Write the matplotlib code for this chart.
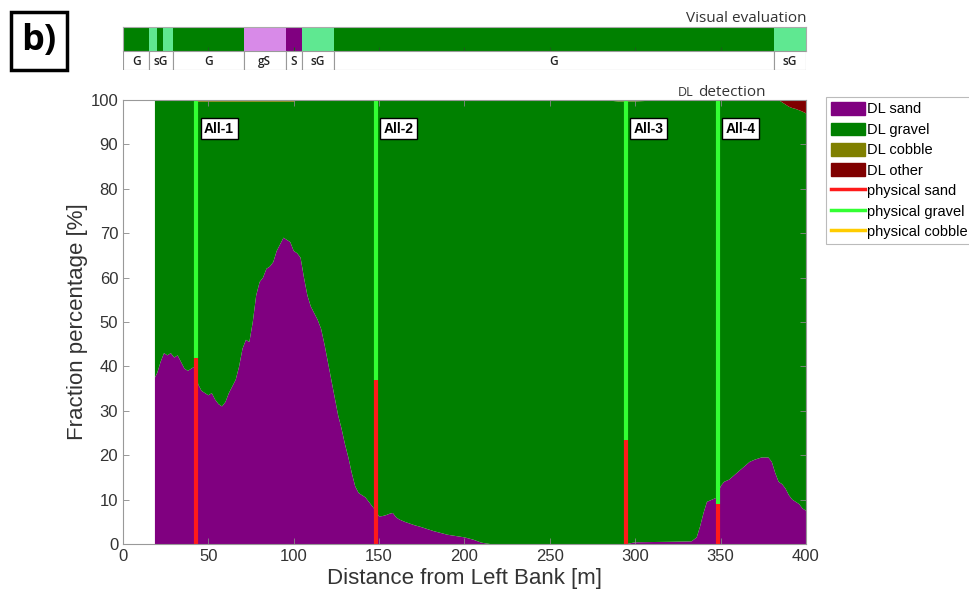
import numpy as np
import matplotlib
matplotlib.use('Agg')
from matplotlib import pyplot as plt
from matplotlib.patches import Patch, Rectangle
from matplotlib.lines import Line2D

plt.rcParams['font.family'] = ['Liberation Sans', 'DejaVu Sans']

# DL detection profile across the section (distance [m], fractions [%])
dist = [18.7, 20, 22, 24, 26, 28, 30, 32, 34, 36, 38, 40, 42, 43, 44, 46, 48,
        50, 52, 54, 56, 58, 60, 62, 64, 66, 68, 70, 72, 74, 76, 78, 80, 82, 84,
        86, 88, 90, 92, 94, 96, 98, 100, 102, 104, 106, 108, 110, 112, 114,
        116, 118, 120, 122, 124, 126, 128, 130, 132, 134, 136, 138, 140, 142,
        144, 146, 148, 150, 152, 154, 156, 158, 160, 162, 165, 168, 171, 174,
        178, 182, 186, 190, 195, 200, 205, 210, 215, 250, 280, 290, 295, 300,
        320, 333, 336, 338, 340, 342, 345, 348, 350, 352, 355, 358, 361, 364,
        367, 370, 374, 378, 380, 382, 384, 386, 388, 390, 392, 394, 396, 398,
        400]
dl_sand = [37.5, 38.5, 41, 43, 42.5, 43, 42, 42.5, 41, 39.5, 39, 39.5, 40, 42,
           36, 34.5, 34, 33.5, 34, 32.5, 31.5, 31, 32, 34, 35.5, 37, 40, 44,
           46, 45.5, 50, 56, 59, 60, 62, 62.5, 63.5, 66, 67.5, 69, 68.5, 68,
           66, 65.5, 64.5, 60, 56, 53.5, 52, 50.5, 48.5, 45, 41, 37, 33, 29,
           26, 22.5, 19.5, 16, 13, 11.5, 11, 10.5, 9.5, 8.5, 7.5, 6.2, 6.3,
           6.5, 6.8, 7, 6, 5.5, 5, 4.6, 4.2, 3.9, 3.4, 2.9, 2.5, 2.1, 1.8, 1.5,
           1.0, 0.3, 0, 0, 0, 0, 0, 0.4, 0.5, 0.6, 1.5, 4, 7, 9.5, 10, 10.5, 13,
           14, 14.5, 15.5, 16.5, 17.5, 18.5, 19, 19.5, 19.5, 18.5, 16, 14,
           13.5, 12.5, 11, 10, 9.5, 9, 8, 7.5]
dl_cobble = [0] * 14 + [0.4] * 29 + [0] * 46 + [0.3, 0.3, 0.3] + [0] * 29
dl_other = [0] * 113 + [0.5, 1.0, 1.5, 1.8, 2.0, 2.3, 2.6, 3.0]
dl_gravel = [100 - s - c - o for s, c, o in zip(dl_sand, dl_cobble, dl_other)]

# Physical samples
samples = ['All-1', 'All-2', 'All-3', 'All-4']
sample_x = [43, 148, 294.5, 348.5]
phys_sand = [42, 37, 23.5, 9]
phys_gravel = [58, 63, 76.5, 91]

# Visual evaluation strip
strip_edges = [0, 15.4, 20.1, 23.2, 29.1, 70.7, 95.2, 105, 123.4, 381.3, 400]
strip_class = ['G', 'sG', 'G', 'sG', 'G', 'gS', 'S', 'sG', 'G', 'sG']
label_edges = [0, 15.4, 29.1, 70.7, 95.2, 105, 123.4, 381.3, 400]
label_text = ['G', 'sG', 'G', 'gS', 'S', 'sG', 'G', 'sG']

class_colors = {'G': '#008000', 'sG': '#5fe891', 'gS': '#d88ae8', 'S': '#800080'}
c_sand, c_gravel, c_cobble, c_other = '#800080', '#008000', '#808000', '#800000'
c_psand, c_pgravel, c_pcobble = '#ff1a1a', '#33ff33', '#ffcc00'

fig = plt.figure(figsize=(9.7, 6.02), dpi=100)

# main stacked area
ax = fig.add_axes([0.1268, 0.0963, 0.7041, 0.7375])
ax.stackplot(dist, dl_sand, dl_gravel, dl_cobble, dl_other,
             colors=[c_sand, c_gravel, c_cobble, c_other], linewidth=0)
for name, xs, ps, pg in zip(samples, sample_x, phys_sand, phys_gravel):
    ax.plot([xs, xs], [0, ps], color=c_psand, lw=3, solid_capstyle='butt')
    ax.plot([xs, xs], [ps, ps + pg], color=c_pgravel, lw=3, solid_capstyle='butt')
    ax.text(xs + 4.5, 93.5, name, fontsize=10, fontweight='bold', va='center',
            ha='left', bbox=dict(boxstyle='square,pad=0.25', fc='white',
                                 ec='black', lw=1))
ax.set_xlim(0, 400)
ax.set_ylim(0, 100)
ax.set_xticks(np.arange(0, 401, 50))
ax.set_yticks(np.arange(0, 101, 10))
ax.tick_params(direction='in', length=4, width=0.6, colors='#888888',
               labelcolor='#333333', labelsize=12, top=True, right=True)
for sp in ax.spines.values():
    sp.set_color('#999999')
    sp.set_linewidth(0.8)
ax.set_xlabel('Distance from Left Bank [m]', fontsize=16, color='#333333',
              labelpad=3)
ax.set_ylabel('Fraction percentage [%]', fontsize=16, color='#333333',
              labelpad=2)

# visual evaluation colour strip
axs = fig.add_axes([0.1268, 1 - 51 / 602, 0.7041, 24 / 602])
for a, b, c in zip(strip_edges[:-1], strip_edges[1:], strip_class):
    axs.barh(0, b - a, left=a, height=1, color=class_colors[c], linewidth=0)
axs.set_xlim(0, 400)
axs.set_ylim(-0.5, 0.5)
axs.set_xticks(np.arange(50, 400, 50))
axs.set_yticks([])
axs.tick_params(axis='x', direction='in', length=3, colors='#1a5e1a',
                labelbottom=False)
for sp in axs.spines.values():
    sp.set_color('#aaaaaa')
    sp.set_linewidth(0.8)

# class labels under the strip
axl = fig.add_axes([0.1268, 1 - 70 / 602, 0.7041, 19 / 602])
axl.set_xlim(0, 400)
axl.set_ylim(0, 1)
axl.axis('off')
for a, b, t in zip(label_edges[:-1], label_edges[1:], label_text):
    axl.add_patch(Rectangle((a, 0), b - a, 1, fc='white', ec='#999999', lw=0.8))
    axl.text((a + b) / 2, 0.47, t, ha='center', va='center', fontsize=8.5,
             fontweight='semibold', family=['Open Sans', 'DejaVu Sans'],
             color='#222222')

fig.text(806 / 970, 1 - 22 / 602, 'Visual evaluation', ha='right',
         va='baseline', fontsize=11, family=['Open Sans', 'DejaVu Sans'],
         color='#333333')
t_det = fig.text(766 / 970, 1 - 96 / 602, 'detection', ha='right',
                 va='baseline', fontsize=11, family=['Open Sans', 'DejaVu Sans'],
                 color='#333333')
fig.canvas.draw()
bb = t_det.get_window_extent().transformed(fig.transFigure.inverted())
fig.text(bb.x0 - 0.005, 1 - 96 / 602, 'DL', ha='right', va='baseline',
         fontsize=9, family=['Open Sans', 'DejaVu Sans'], color='#333333')

# panel tag
fig.text(39 / 970, 1 - 41 / 602, 'b)', ha='center', va='center', fontsize=26,
         fontweight='bold', family=['Open Sans', 'DejaVu Sans'],
         bbox=dict(boxstyle='square,pad=0.3', fc='white', ec='black', lw=2.5))

handles = [Patch(color=c_sand), Patch(color=c_gravel), Patch(color=c_cobble),
           Patch(color=c_other),
           Line2D([], [], color=c_psand, lw=2.5),
           Line2D([], [], color=c_pgravel, lw=2.5),
           Line2D([], [], color=c_pcobble, lw=2.5)]
labels = ['DL sand', 'DL gravel', 'DL cobble', 'DL other', 'physical sand',
          'physical gravel', 'physical cobble']
leg = fig.legend(handles, labels, loc='upper left',
                 bbox_to_anchor=(826 / 970, 1 - 97 / 602), fontsize=10.5,
                 frameon=True, fancybox=False, edgecolor='#aaaaaa',
                 handlelength=2.3, handleheight=0.95, handletextpad=0.15,
                 labelspacing=0.42, borderpad=0.35, borderaxespad=0)
leg.get_frame().set_linewidth(0.8)

fig.savefig('out.png', dpi=100)
